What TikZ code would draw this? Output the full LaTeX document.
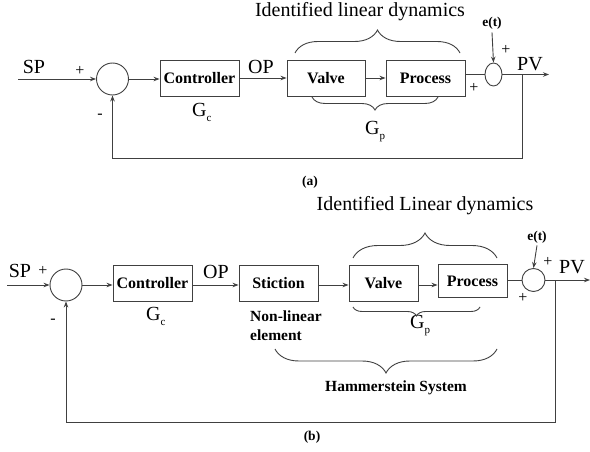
\documentclass[tikz,border=0pt]{standalone}
\usepackage{fontspec}
\setmainfont{Liberation Serif}
\usetikzlibrary{arrows.meta,shapes.geometric,decorations.pathreplacing}
\newcommand{\mysub}[1]{\raisebox{-5pt}{\fontsize{11}{11}\selectfont #1}}
\tikzset{
  ln/.style={draw=black!75,line width=0.9pt},
  arr/.style={ln,-{Stealth[length=6pt,width=4.5pt]}},
  blk/.style={draw=black!75,line width=0.9pt,rectangle,minimum height=36pt,inner sep=0pt,
     font=\fontsize{16}{18}\selectfont\bfseries},
  sumc/.style={draw=black!75,line width=0.9pt,circle,inner sep=0pt},
  big/.style={inner sep=0pt,font=\fontsize{20}{24}\selectfont},
  sgn/.style={inner sep=0pt,font=\fontsize{16}{18}\selectfont},
  bld/.style={inner sep=0pt,font=\fontsize{15.5}{19}\selectfont\bfseries},
  sml/.style={inner sep=0pt,font=\fontsize{13.5}{16}\selectfont\bfseries},
  brc/.style={draw=black!75,line width=0.9pt,decorate,decoration={brace,amplitude=#1}},
}
\begin{document}
\begin{tikzpicture}[x=1pt,y=-1pt]
\useasboundingbox (0,0) rectangle (590,452);
% ---------------- panel (a) ----------------
\coordinate (inA) at (18,79);
\node[sumc,minimum size=32pt] (sum1) at (112.5,79) {};
\node[blk,minimum width=79pt] (ctrl) at (199.5,78) {Controller};
\node[blk,minimum width=78pt] (valve) at (326,78) {Valve};
\node[blk,minimum width=79pt] (proc) at (425.5,78) {Process};
\node[draw=black!75,line width=0.9pt,ellipse,minimum width=17pt,minimum height=23pt,inner sep=0pt] (sum2) at (493.5,74.5) {};
\coordinate (outA) at (549,74.5);
\coordinate (fb1) at (522,74.5);
\coordinate (cA) at (522,158);
\node[sml] (et1) at (492,23) {e(t)};

\draw[arr] (inA) -- (sum1.west);
\draw[arr] (sum1.east) -- (sum1.east -| ctrl.west);
\draw[arr] (ctrl.east) -- (valve.west);
\draw[arr] (valve.east) -- (proc.west);
\draw[ln] (proc.east |- sum2.west) -- (sum2.west);
\draw[arr] (sum2.east) -- (outA);
\draw[arr] (et1.south) ++(0,3) -- (sum2.north);
\draw[arr] (fb1) -- (cA) -| (sum1.south);

\node[big] (spA) at (34,67) {SP};
\node[sgn] (p1) at (80,71) {+};
\node[sgn] (m1) at (100,116) {-};
\node[big] (opA) at (261,67) {OP};
\node[big,anchor=west] (gcA) at (192,112) {G\mysub{c}};
\node[big] (pvA) at (530,64) {PV};
\node[sgn] (p2) at (506,50) {+};
\node[sgn] (p3) at (474,88) {+};
\node[big,anchor=west] (gpA) at (365,132) {G\mysub{p}};
\node[big] (tA) at (360,12) {Identified linear dynamics};
\node[sml] (labA) at (310,182) {(a)};
\draw[brc=23pt] (295,53) -- (460,53);
\draw[brc=13pt] (438,97) -- (312,97);

% ---------------- panel (b) ----------------
\coordinate (inB) at (7,285);
\node[sumc,minimum size=32pt] (sum3) at (66,285) {};
\node[blk,minimum width=79pt] (ctrlB) at (152.5,283) {Controller};
\node[blk,minimum width=79pt] (stic) at (278.5,283) {Stiction};
\node[blk,minimum width=69pt] (valveB) at (383.5,283) {Valve};
\node[blk,minimum width=69pt,minimum height=33pt] (procB) at (472.5,281) {Process};
\node[sumc,minimum size=23pt] (sum4) at (533.5,280) {};
\coordinate (outB) at (590,280);
\coordinate (fb2) at (555,280);
\coordinate (cB) at (555,422);
\node[sml] (et2) at (537,237) {e(t)};

\draw[arr] (inB) -- (sum3.west);
\draw[arr] (sum3.east) -- (sum3.east -| ctrlB.west);
\draw[arr] (sum3.east -| ctrlB.east) -- (sum3.east -| stic.west);
\draw[arr] (sum3.east -| stic.east) -- (sum3.east -| valveB.west);
\draw[arr] (sum3.east -| valveB.east) -- (sum3.east -| procB.west);
\draw[ln] (procB.east |- sum4.west) -- (sum4.west);
\draw[arr] (sum4.east) -- (outB);
\draw[arr] (et2.south) ++(0,2) -- (sum4.north);
\draw[arr] (fb2) -- (cB) -| (sum3.south);

\node[big] (spB) at (20,271) {SP};
\node[sgn] (p4) at (43,271) {+};
\node[sgn] (m2) at (53,321) {-};
\node[big] (opB) at (216,272) {OP};
\node[big,anchor=west] (gcB) at (146,316) {G\mysub{c}};
\node[big] (pvB) at (572,267) {PV};
\node[sgn] (p5) at (548,262) {+};
\node[sgn] (p6) at (523,298) {+};
\node[big,anchor=west] (gpB) at (410,326) {G\mysub{p}};
\node[big] (tB) at (425,206) {Identified Linear dynamics};
\node[bld,align=left,anchor=north west] (nl) at (250,311) {Non-linear\\element};
\node[bld] (hs) at (396,388) {Hammerstein System};
\node[sml] (labB) at (312,437) {(b)};
\draw[brc=25pt] (353,258) -- (497,258);
\draw[brc=9pt] (480,307) -- (353,307);
\draw[brc=24pt] (497,349) -- (275,349);
\end{tikzpicture}
\end{document}
